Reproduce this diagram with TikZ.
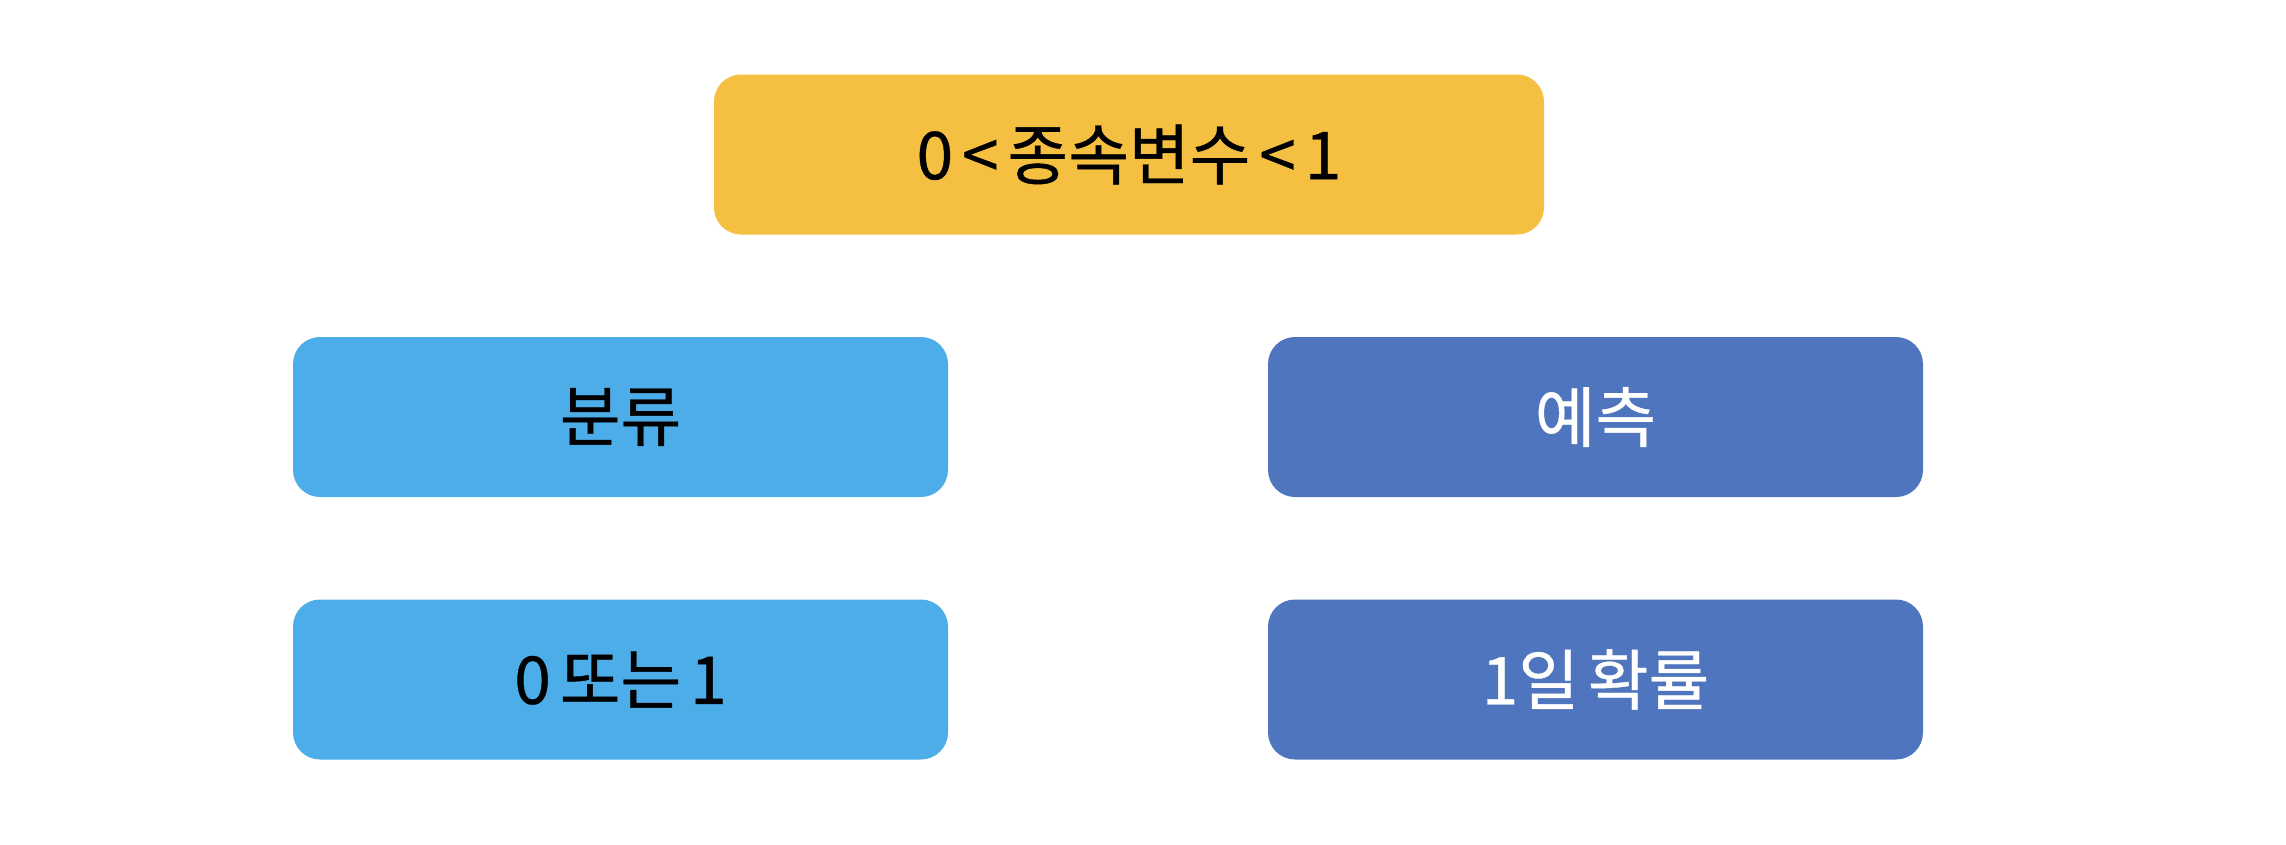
\documentclass[tikz,border=0pt]{standalone}
\usepackage{fontspec}
\setmainfont{Noto Sans CJK KR}[FakeBold=0.6,WordSpace=0.6]
\definecolor{boxyellow}{RGB}{245,192,66}
\definecolor{boxlight}{RGB}{77,173,232}
\definecolor{boxdark}{RGB}{78,117,189}
\begin{document}
\begin{tikzpicture}[x=1pt,y=-1pt,
  card/.style={rounded corners=27pt, inner sep=0pt, minimum width=655pt, minimum height=160pt, font=\fontsize{66}{78}\selectfont},
  lightcard/.style={card, fill=boxlight, text=black},
  darkcard/.style={card, fill=boxdark, text=white}]
\useasboundingbox (0,0) rectangle (2286,844);
\node[card, fill=boxyellow, minimum width=830pt, minimum height=160pt] (top) at (1129,154.5) {0 < 종속변수 < 1};
\node[lightcard] (cls) at (620.5,417) {분류};
\node[lightcard] (bin) at (620.5,679.5) {0 또는 1};
\node[darkcard] (pred) at (1595.5,417) {예측};
\node[darkcard] (prob) at (1595.5,679.5) {1일 확률};
\end{tikzpicture}
\end{document}
